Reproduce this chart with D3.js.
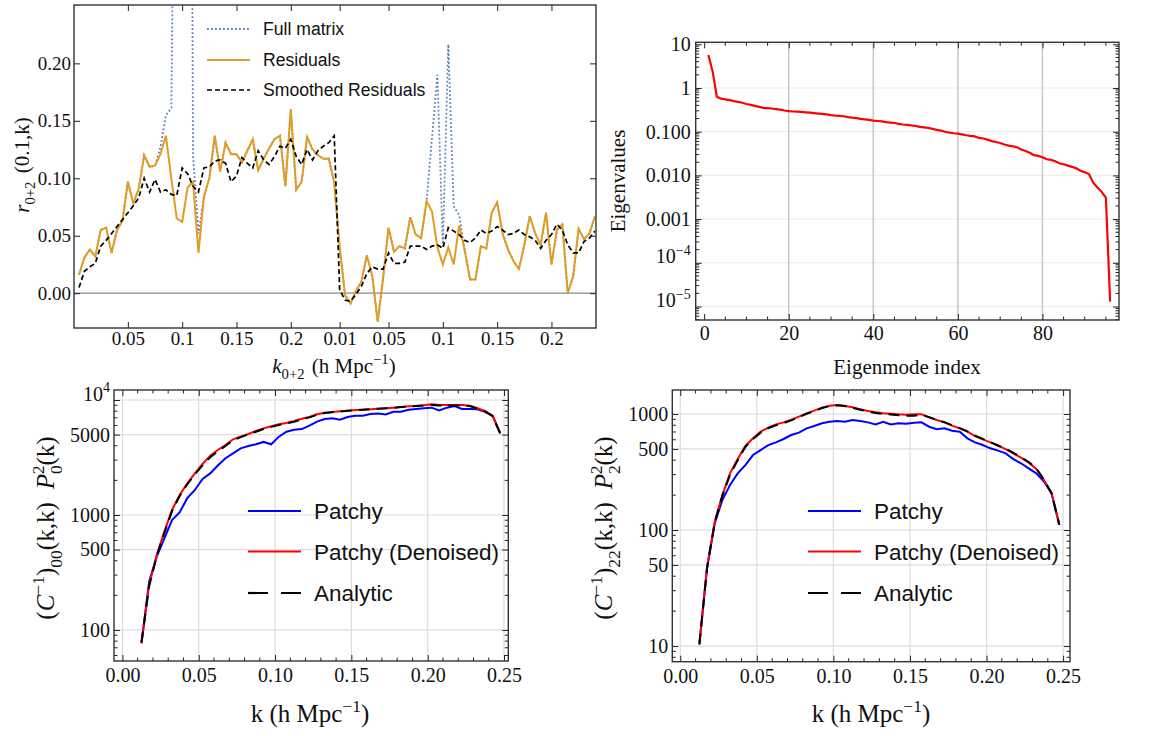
<!DOCTYPE html>
<html><head><meta charset="utf-8">
<script src="https://cdn.jsdelivr.net/npm/d3@7"></script>
<style>body{margin:0;background:#fff}</style>
</head><body>
<svg id="c" width="1156" height="736" xmlns="http://www.w3.org/2000/svg"></svg>
<script>
// ---------- Panel 1 data (index along concatenated k_{0+2} bins) ----------
const rTickIdx = [9, 19, 29, 39, 48, 57, 67, 77, 87];
const rTickLab = ["0.05","0.1","0.15","0.2","0.01","0.05","0.1","0.15","0.2"];
const rYTicks = [0, 0.05, 0.10, 0.15, 0.20];
const residuals = [0.016,0.031,0.038,0.032,0.055,0.057,0.035,0.055,0.063,0.097,
  0.078,0.091,0.120,0.110,0.111,0.121,0.137,0.100,0.065,0.062,
  0.092,0.097,0.035,0.084,0.100,0.137,0.106,0.131,0.121,0.121,
  0.114,0.124,0.134,0.107,0.117,0.126,0.134,0.137,0.093,0.160,
  0.090,0.097,0.136,0.125,0.120,0.117,0.117,0.096,0.040,-0.002,
  -0.009,0.002,0.010,0.033,0.015,-0.025,0.013,0.057,0.036,0.041,
  0.039,0.066,0.051,0.048,0.080,0.071,0.040,0.025,0.040,0.025,
  0.059,0.038,0.012,0.012,0.041,0.039,0.070,0.079,0.052,0.038,
  0.028,0.021,0.042,0.067,0.052,0.042,0.070,0.025,0.055,0.060,
  0.000,0.015,0.056,0.047,0.052,0.067];
const fullMatrix = [0.016,0.031,0.038,0.032,0.055,0.057,0.035,0.055,0.063,0.097,
  0.078,0.091,0.120,0.110,0.111,0.127,0.155,0.161,0.600,0.900,
  1.200,0.120,0.052,0.084,0.100,0.137,0.106,0.131,0.121,0.121,
  0.114,0.124,0.134,0.107,0.117,0.126,0.134,0.137,0.093,0.160,
  0.090,0.097,0.136,0.125,0.120,0.117,0.117,0.096,0.040,-0.002,
  -0.009,0.002,0.010,0.033,0.015,-0.025,0.013,0.057,0.036,0.041,
  0.039,0.066,0.051,0.048,0.080,0.135,0.190,0.041,0.2165,0.0755,
  0.068,0.038,0.012,0.012,0.041,0.039,0.070,0.079,0.052,0.038,
  0.028,0.021,0.042,0.067,0.052,0.042,0.070,0.025,0.055,0.060,
  0.000,0.015,0.056,0.047,0.052,0.067];
const smoothed = [0.005,0.019,0.023,0.026,0.041,0.046,0.052,0.058,0.064,0.070,
  0.076,0.083,0.100,0.088,0.099,0.088,0.090,0.086,0.085,0.109,
  0.104,0.093,0.088,0.109,0.110,0.115,0.116,0.113,0.097,0.102,
  0.118,0.113,0.109,0.124,0.116,0.112,0.119,0.128,0.126,0.134,
  0.119,0.112,0.125,0.116,0.124,0.128,0.131,0.137,0.003,-0.006,
  -0.007,-0.001,0.006,0.017,0.023,0.021,0.021,0.035,0.026,0.026,
  0.027,0.041,0.041,0.041,0.038,0.041,0.042,0.039,0.057,0.054,
  0.051,0.046,0.044,0.048,0.055,0.052,0.054,0.058,0.055,0.051,
  0.052,0.055,0.051,0.049,0.046,0.039,0.046,0.051,0.060,0.055,
  0.042,0.035,0.035,0.045,0.048,0.054];

// ---------- Panel 2 data ----------
const eigXTicks = [0, 20, 40, 60, 80];
const eigYTicks = [10, 1, 0.1, 0.01, 0.001, 1e-4, 1e-5];
const eigYLabels = ["10","1","0.100","0.010","0.001","10^-4","10^-5"];
const eigenvalues = [5.7,2.4,0.63,0.57,0.55,0.53,0.50,0.48,0.46,0.43,
  0.41,0.39,0.37,0.35,0.345,0.34,0.33,0.32,0.305,0.295,
  0.29,0.287,0.283,0.278,0.272,0.266,0.26,0.255,0.248,0.240,
  0.234,0.230,0.226,0.216,0.209,0.204,0.197,0.191,0.186,0.180,
  0.176,0.172,0.166,0.162,0.158,0.151,0.146,0.143,0.139,0.135,
  0.129,0.126,0.122,0.116,0.110,0.106,0.100,0.095,0.092,0.090,
  0.087,0.083,0.080,0.078,0.072,0.070,0.066,0.061,0.058,0.055,
  0.051,0.048,0.046,0.044,0.039,0.036,0.033,0.029,0.028,0.026,
  0.0234,0.0226,0.021,0.019,0.018,0.0167,0.0157,0.0145,0.0128,0.0118,
  0.0107,0.0068,0.0053,0.0042,0.0031,1.3e-5];

// ---------- Panels 3/4 data ----------
const kBins = [0.0125,0.0175,0.0225,0.0275,0.0325,0.0375,0.0425,0.0475,0.0525,0.0575,
  0.0625,0.0675,0.0725,0.0775,0.0825,0.0875,0.0925,0.0975,0.1025,0.1075,
  0.1125,0.1175,0.1225,0.1275,0.1325,0.1375,0.1425,0.1475,0.1525,0.1575,
  0.1625,0.1675,0.1725,0.1775,0.1825,0.1875,0.1925,0.1975,0.2025,0.2075,
  0.2125,0.2175,0.2225,0.2275,0.2325,0.2375,0.2425,0.2475];
const kTicks = [0, 0.05, 0.10, 0.15, 0.20, 0.25];
const p0Ticks = [100, 500, 1000, 5000, 10000];
const p2Ticks = [10, 50, 100, 500, 1000];
const p0Patchy = [77,263,434,627,903,1054,1400,1650,2055,2300,2690,3120,3440,3800,3980,4120,4320,4120,4800,5300,
  5520,5590,5980,6480,6840,6930,6750,7110,7310,7310,7560,7620,7500,7900,7900,8240,8350,8470,8580,8130,
  8580,8870,8350,8350,8300,7900,7310,5130];
const p0Denoised = [76.6,246,449,716,1105,1493,1884,2300,2776,3281,3676,4060,4553,4804,5064,5376,5670,5903,6144,6315,
  6568,6880,7110,7508,7759,7865,7970,8078,8187,8242,8297,8410,8466,8580,8696,8813,8872,8990,9170,9050,
  9050,9050,9050,8930,8470,8020,7310,5130];
const p0Analytic = [78,240,440,700,1080,1460,1850,2260,2700,3180,3580,3980,4470,4760,5020,5300,5590,5840,6060,6250,
  6480,6800,7060,7440,7700,7820,7950,8060,8150,8220,8300,8400,8470,8560,8680,8780,8850,8950,9060,8980,
  8960,8960,8970,8880,8420,7960,7250,5130];
const p2Patchy = [10.5,46.8,114,182,244,308,363,443,489,540,570,609,659,690,752,788,831,858,870,858,
  888,870,847,814,858,814,831,825,842,847,777,738,752,718,704,617,570,540,506,483,
  458,409,376,340,308,262,207,111];
const p2Denoised = [10.5,48.3,118,200,308,409,530,617,704,762,814,847,894,948,1013,1068,1134,1180,1196,1172,
  1141,1097,1062,1034,1013,1007,993,987,993,993,936,888,847,793,752,704,646,605,570,533,
  499,458,420,381,336,270,207,111];
const p2Analytic = [10.3,47,116,198,300,400,520,610,690,755,800,835,880,940,1005,1060,1125,1170,1190,1170,
  1130,1090,1050,1020,1000,990,975,965,968,985,940,890,850,800,755,708,652,610,572,535,
  502,462,425,386,340,272,206,111];

const legendNames = ["Patchy", "Patchy (Denoised)", "Analytic"];
const legend1Names = ["Full matrix", "Residuals", "Smoothed Residuals"];

// ---------- helpers ----------
const SERIF = "'Liberation Serif','Times New Roman',serif";
const SANS = "'Liberation Sans',Arial,sans-serif";
const svg = d3.select("#c");

function rich(sel, parts, fs) {
  let shift = 0;
  parts.forEach(p => {
    const ts = sel.append("tspan").text(p.t);
    let target = 0, size = fs;
    if (p.sub) { target = fs * 0.3; size = fs * 0.7; }
    if (p.sup) { target = -fs * 0.42; size = fs * 0.7; }
    ts.attr("dy", target - shift).attr("font-size", size);
    if (p.it) ts.attr("font-style", "italic");
    if (p.dx) ts.attr("dx", p.dx);
    shift = target;
  });
}

function panelAxes(g, x, y, o) {
  const [x0, x1] = x.range(), [y1, y0] = y.range();
  const L = 6, l = 3.5;
  const styleAx = s => s.attr("font-family", SERIF).attr("font-size", o.fs).style("color", "#222");
  const b = g.append("g").attr("transform", `translate(0,${y1})`)
    .call(d3.axisBottom(x).tickValues(o.xt).tickFormat(o.xf).tickSizeInner(-L).tickSizeOuter(0).tickPadding(o.xpad));
  styleAx(b); b.select(".domain").remove();
  b.selectAll(".tick text").attr("font-family", SERIF).attr("fill", "#111");
  const t = g.append("g").attr("transform", `translate(0,${y0})`)
    .call(d3.axisTop(x).tickValues(o.xt).tickFormat("").tickSizeInner(-L).tickSizeOuter(0));
  styleAx(t); t.select(".domain").remove();
  const lft = g.append("g").attr("transform", `translate(${x0},0)`)
    .call(d3.axisLeft(y).tickValues(o.yt).tickFormat(o.yf).tickSizeInner(-L).tickSizeOuter(0).tickPadding(o.ypad));
  styleAx(lft); lft.select(".domain").remove();
  lft.selectAll(".tick text").attr("font-family", SERIF).attr("fill", "#111");
  const r = g.append("g").attr("transform", `translate(${x1},0)`)
    .call(d3.axisRight(y).tickValues(o.yt).tickFormat("").tickSizeInner(-L).tickSizeOuter(0));
  styleAx(r); r.select(".domain").remove();
  if (o.ylab) lft.selectAll(".tick text").each(function(d, i) {
    const s = o.ylab[i];
    if (s.includes("^")) {
      const [base, ex] = s.split("^");
      const tx = d3.select(this).text("");
      rich(tx, [{t: base}, {t: ex.replace("-", "\u2212"), sup: true}], o.fs);
      tx.attr("dy", "0.55em");
    }
  });
  if (o.xm) [y1, y0].forEach((yy, k) => g.append("g").selectAll("line").data(o.xm).join("line")
    .attr("x1", d => x(d)).attr("x2", d => x(d)).attr("y1", yy).attr("y2", k ? yy + l : yy - l)
    .attr("stroke", "#222").attr("stroke-width", 1));
  if (o.ym) [x0, x1].forEach((xx, k) => g.append("g").selectAll("line").data(o.ym).join("line")
    .attr("y1", d => y(d)).attr("y2", d => y(d)).attr("x1", xx).attr("x2", k ? xx - l : xx + l)
    .attr("stroke", "#222").attr("stroke-width", 1));
  g.append("rect").attr("x", x0).attr("y", y0).attr("width", x1 - x0).attr("height", y1 - y0)
    .attr("fill", "none").attr("stroke", "#333").attr("stroke-width", 1.4);
}

function clip(id, x, y) {
  const [x0, x1] = x.range(), [y1, y0] = y.range();
  svg.append("clipPath").attr("id", id).append("rect")
    .attr("x", x0).attr("y", y0).attr("width", x1 - x0).attr("height", y1 - y0);
}

function logMinor(lo, hi, exclude) {
  const out = [];
  for (let e = Math.floor(Math.log10(lo)); e <= Math.ceil(Math.log10(hi)); e++)
    for (let m = 1; m <= 9; m++) {
      const v = m * Math.pow(10, e);
      if (v >= lo && v <= hi && !exclude.some(t => Math.abs(t - v) / v < 1e-9)) out.push(v);
    }
  return out;
}

// ================= Panel 1 =================
{
  const x = d3.scaleLinear().domain([-0.92, 95.2]).range([74, 596]);
  const y = d3.scaleLinear().domain([-0.0303, 0.2508]).range([328, 5]);
  const g = svg.append("g");
  clip("cp1", x, y);
  g.append("line").attr("x1", 74).attr("x2", 596).attr("y1", y(0)).attr("y2", y(0))
    .attr("stroke", "#888").attr("stroke-width", 1.2);
  const line = d3.line().x((d, i) => x(i)).y(d => y(d));
  const cg = g.append("g").attr("clip-path", "url(#cp1)");
  cg.append("path").attr("d", line(fullMatrix)).attr("fill", "none")
    .attr("stroke", "#5E81B5").attr("stroke-width", 1.8).attr("stroke-dasharray", "1.8,2.2");
  cg.append("path").attr("d", line(residuals)).attr("fill", "none")
    .attr("stroke", "#E19C24").attr("stroke-width", 2);
  cg.append("path").attr("d", line(smoothed)).attr("fill", "none")
    .attr("stroke", "#000").attr("stroke-width", 1.7).attr("stroke-dasharray", "5,3");
  panelAxes(g, x, y, {fs: 19, xt: rTickIdx, xf: (d, i) => rTickLab[i], xpad: 3,
    yt: rYTicks, yf: d3.format(".2f"), ypad: 3});
  const ly = [29, 60, 90];
  const sty = [["#5E81B5", "1.8,2.2", 1.8], ["#E19C24", null, 2], ["#000", "5,3", 1.7]];
  legend1Names.forEach((n, i) => {
    g.append("line").attr("x1", 207).attr("x2", 250).attr("y1", ly[i]).attr("y2", ly[i])
      .attr("stroke", sty[i][0]).attr("stroke-width", sty[i][2]).attr("stroke-dasharray", sty[i][1]);
    g.append("text").attr("x", 263).attr("y", ly[i] + 6).attr("font-family", SANS)
      .attr("font-size", 17.6).attr("fill", "#111").text(n);
  });
  const yl = g.append("text").attr("transform", "translate(29,165) rotate(-90)")
    .attr("text-anchor", "middle").attr("font-family", SERIF).attr("fill", "#111");
  rich(yl, [{t: "r", it: true}, {t: "0+2", sub: true}, {t: " (0.1,k)", dx: 3}], 21);
  const xl = g.append("text").attr("x", 334).attr("y", 373)
    .attr("text-anchor", "middle").attr("font-family", SERIF).attr("fill", "#111");
  rich(xl, [{t: "k", it: true}, {t: "0+2", sub: true}, {t: " (h Mpc", dx: 2}, {t: "\u22121", sup: true}, {t: ")"}], 21);
}

// ================= Panel 2 =================
{
  const x = d3.scaleLinear().domain([-2, 98.1]).range([695.7, 1119]);
  const y = d3.scaleLog().domain([4.91e-6, 11.11]).range([320, 42.3]);
  const g = svg.append("g");
  clip("cp2", x, y);
  g.append("g").selectAll("line").data(eigYTicks).join("line")
    .attr("x1", 695.7).attr("x2", 1119).attr("y1", d => y(d)).attr("y2", d => y(d))
    .attr("stroke", "#ececec").attr("stroke-width", 1);
  g.append("g").selectAll("line").data(eigXTicks.filter(d => d > 0)).join("line")
    .attr("y1", 42.3).attr("y2", 320).attr("x1", d => x(d)).attr("x2", d => x(d))
    .attr("stroke", "#c8c8c8").attr("stroke-width", 1.5);
  const line = d3.line().x((d, i) => x(i + 1)).y(d => y(d));
  g.append("g").attr("clip-path", "url(#cp2)").append("path").attr("d", line(eigenvalues))
    .attr("fill", "none").attr("stroke", "#ff0000").attr("stroke-width", 2.2);
  const xm = d3.range(0, 100, 5).filter(d => d % 20 !== 0);
  panelAxes(g, x, y, {fs: 20, xt: eigXTicks, xf: d3.format("d"), xpad: 6,
    yt: eigYTicks, yf: (d, i) => eigYLabels[i], ylab: eigYLabels, ypad: 5,
    xm: xm, ym: logMinor(4.91e-6, 11.11, eigYTicks)});
  g.append("text").attr("transform", "translate(625,181) rotate(-90)").attr("text-anchor", "middle")
    .attr("font-family", SERIF).attr("font-size", 21).attr("fill", "#111").text("Eigenvalues");
  g.append("text").attr("x", 907).attr("y", 374).attr("text-anchor", "middle")
    .attr("font-family", SERIF).attr("font-size", 21).attr("fill", "#111").text("Eigenmode index");
}

// ================= Panels 3 & 4 =================
function covPanel(o) {
  const x = d3.scaleLinear().domain(o.xd).range(o.xr);
  const y = d3.scaleLog().domain(o.yd).range(o.yr);
  const g = svg.append("g");
  clip(o.id, x, y);
  const [x0, x1] = o.xr, [y1, y0] = o.yr;
  g.append("g").selectAll("line").data(o.yt).join("line")
    .attr("x1", x0).attr("x2", x1).attr("y1", d => y(d)).attr("y2", d => y(d))
    .attr("stroke", "#dcdcdc").attr("stroke-width", 1.2);
  g.append("g").selectAll("line").data(kTicks).join("line")
    .attr("y1", y0).attr("y2", y1).attr("x1", d => x(d)).attr("x2", d => x(d))
    .attr("stroke", "#dcdcdc").attr("stroke-width", 1.2);
  const line = d3.line().x((d, i) => x(kBins[i])).y(d => y(d));
  const cg = g.append("g").attr("clip-path", `url(#${o.id})`);
  cg.append("path").attr("d", line(o.patchy)).attr("fill", "none").attr("stroke", "#0000ff").attr("stroke-width", 2);
  cg.append("path").attr("d", line(o.denoised)).attr("fill", "none").attr("stroke", "#ff0000").attr("stroke-width", 2);
  cg.append("path").attr("d", line(o.analytic)).attr("fill", "none").attr("stroke", "#000")
    .attr("stroke-width", 2).attr("stroke-dasharray", "11,7");
  const xm = d3.range(0, 0.26, 0.01).filter(d => Math.abs(d / 0.05 - Math.round(d / 0.05)) > 1e-6);
  panelAxes(g, x, y, {fs: 20, xt: kTicks, xf: d3.format(".2f"), xpad: 7,
    yt: o.yt, yf: (d, i) => o.ylabs[i], ylab: o.ylabs, ypad: 4,
    xm: xm, ym: logMinor(o.yd[0], o.yd[1], o.yt)});
  const ly = [511, 551.5, 593];
  const st = [["#0000ff", null], ["#ff0000", null], ["#000", "20,13"]];
  legendNames.forEach((n, i) => {
    g.append("line").attr("x1", o.lx).attr("x2", o.lx + 53).attr("y1", ly[i]).attr("y2", ly[i])
      .attr("stroke", st[i][0]).attr("stroke-width", 2.2).attr("stroke-dasharray", st[i][1]);
    g.append("text").attr("x", o.lx + 66).attr("y", ly[i] + 8).attr("font-family", SANS)
      .attr("font-size", 22.5).attr("fill", "#111").text(n);
  });
  const yl = g.append("text").attr("transform", `translate(${o.ylx},528) rotate(-90)`)
    .attr("text-anchor", "middle").attr("font-family", SERIF).attr("fill", "#111");
  rich(yl, [{t: "("}, {t: "C", it: true}, {t: "\u22121", sup: true}, {t: ")"}, {t: o.sub, sub: true},
    {t: "(k,k)"}, {t: "P", it: true, dx: 13}, {t: o.sub[0], sub: true}, {t: "2", sup: true, dx: -9}, {t: "(k)"}], 25);
  const xl = g.append("text").attr("x", o.xlx).attr("y", 722).attr("text-anchor", "middle")
    .attr("font-family", SERIF).attr("fill", "#111");
  rich(xl, [{t: "k (h Mpc"}, {t: "\u22121", sup: true}, {t: ")"}], 25);
}

covPanel({id: "cp3", xd: [-0.0055, 0.2528], xr: [114, 508.3], yd: [53.7, 12220], yr: [661, 390],
  yt: p0Ticks, ylabs: ["100","500","1000","5000","10^4"], patchy: p0Patchy, denoised: p0Denoised,
  analytic: p0Analytic, lx: 248, ylx: 54, xlx: 310, sub: "00"});
covPanel({id: "cp4", xd: [-0.0052, 0.2545], xr: [672.3, 1070], yd: [7.33, 1610], yr: [661.7, 390],
  yt: p2Ticks, ylabs: ["10","50","100","500","1000"], patchy: p2Patchy, denoised: p2Denoised,
  analytic: p2Analytic, lx: 808, ylx: 612, xlx: 871, sub: "22"});
</script>
</body></html>
